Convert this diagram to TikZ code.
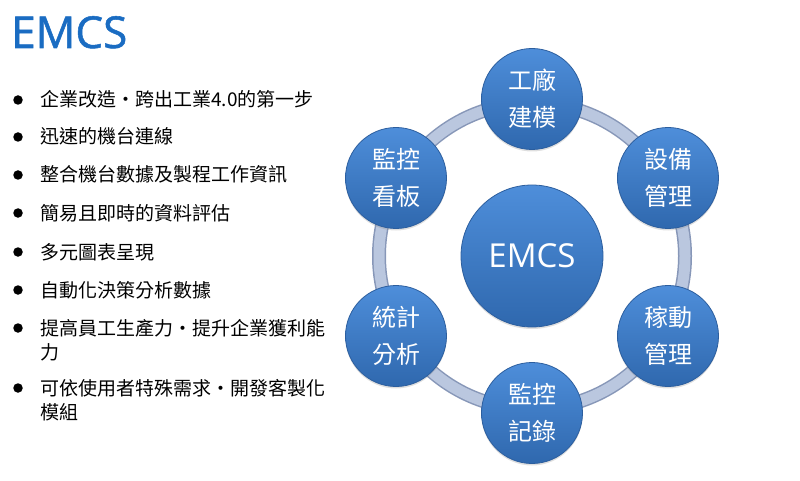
\documentclass[tikz,border=0pt]{standalone}
\usepackage{fontspec}
\setmainfont{Open Sans}
\newfontfamily\cjk{Noto Sans CJK TC}
\newfontfamily\titlefont[FakeBold=1.2]{Open Sans}
\usetikzlibrary{shadows}
\definecolor{titleblue}{HTML}{1A6CC2}
\definecolor{balltop}{HTML}{4E8EDA}
\definecolor{ballbot}{HTML}{2F68AE}
\definecolor{balledge}{HTML}{2C5E9E}
\definecolor{ringedge}{HTML}{8797B8}
\definecolor{ringfill}{HTML}{BAC7DF}
\tikzset{
  ball/.style={circle, inner sep=0pt, top color=balltop, bottom color=ballbot,
    draw=balledge, line width=0.8pt, text=white, align=center,
    drop shadow={shadow xshift=0pt, shadow yshift=-2pt, opacity=0.25}},
  smallball/.style={ball, minimum size=101pt, font=\cjk\fontsize{24}{37}\selectfont},
  item/.style={anchor=base west, inner sep=0pt, align=left, font=\cjk\fontsize{19}{24}\selectfont},
  bulletdot/.style={circle, fill=black, inner sep=0pt, minimum size=9.5pt}
}
\begin{document}
\begin{tikzpicture}[x=1pt,y=-1pt]
\useasboundingbox (0,0) rectangle (800,481);
% title
\node[anchor=base west, inner sep=0pt, text=titleblue, font=\titlefont\fontsize{44}{50}\selectfont] (title) at (11,48) {EMCS};
% bullets
\foreach \y [count=\i] in {100,137,175,213,252,290,328,388} {
  \node[bulletdot] (b\i) at (18,\y) {};
}
\node[item] (t1) at (40,107) {企業改造・跨出工業4.0的第一步};
\node[item] (t2) at (40,144) {迅速的機台連線};
\node[item] (t3) at (40,182) {整合機台數據及製程工作資訊};
\node[item] (t4) at (40,220) {簡易且即時的資料評估};
\node[item] (t5) at (40,259) {多元圖表呈現};
\node[item] (t6) at (40,297) {自動化決策分析數據};
\node[item] (t7) at (40,359) {提高員工生產力・提升企業獲利能\\力};
\node[item] (t8) at (40,419) {可依使用者特殊需求・開發客製化\\模組};
% ring
\coordinate (c) at (532,256);
\draw[ringedge, line width=14pt] (c) circle[radius=153];
\draw[ringfill, line width=11pt] (c) circle[radius=153];
% balls
\node[ball, minimum size=142pt, font=\fontsize{33}{40}\selectfont] (center) at (c) {EMCS};
\node[smallball] (n1) at (532,99) {工廠\\建模};
\node[smallball] (n2) at (668,178) {設備\\管理};
\node[smallball] (n3) at (668,336) {稼動\\管理};
\node[smallball] (n4) at (532,413) {監控\\記錄};
\node[smallball] (n5) at (396,336) {統計\\分析};
\node[smallball] (n6) at (396,178) {監控\\看板};
\end{tikzpicture}
\end{document}
